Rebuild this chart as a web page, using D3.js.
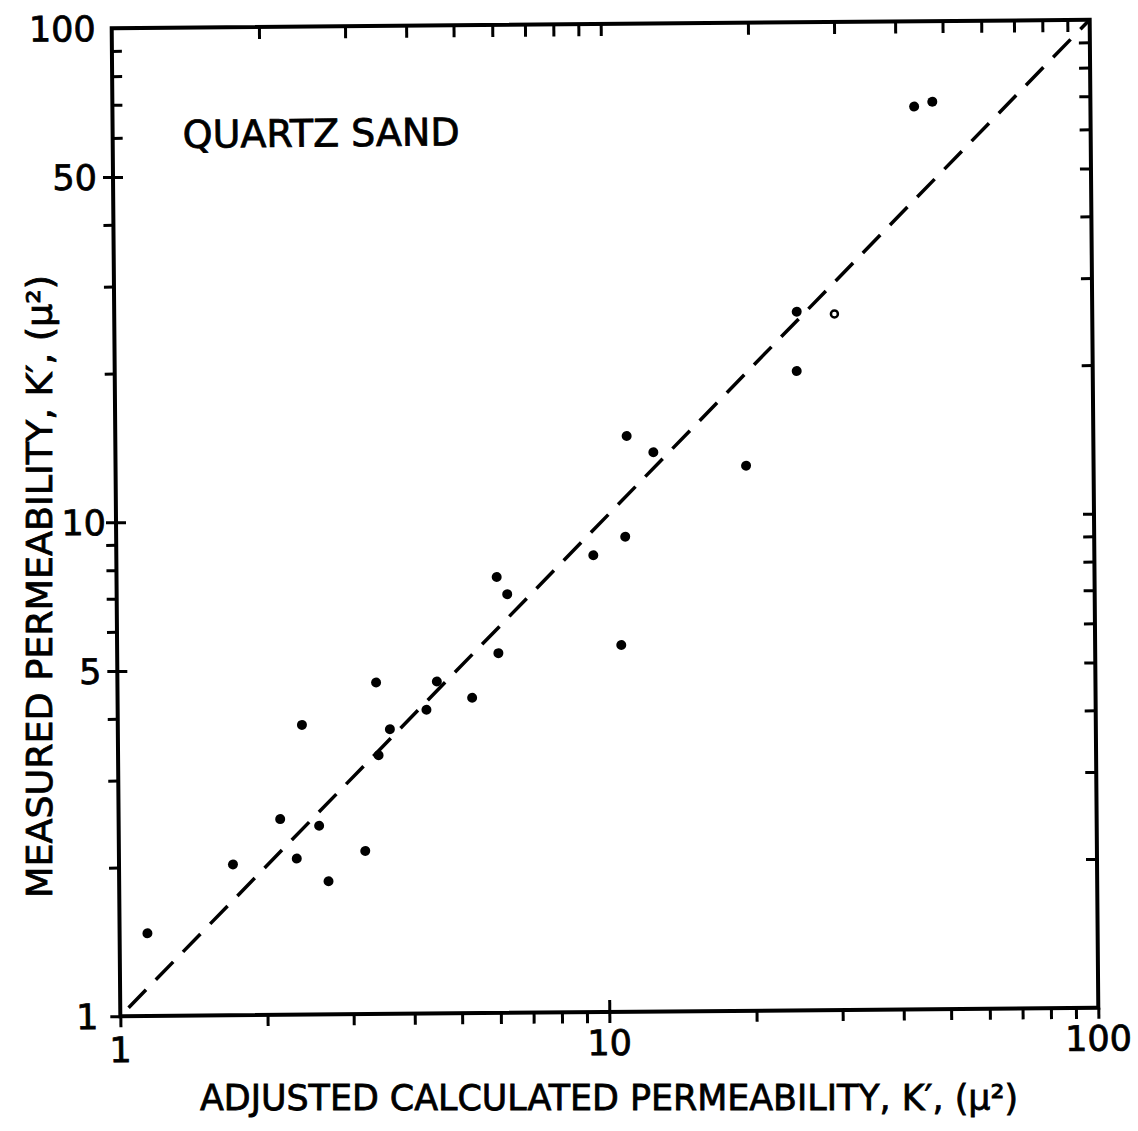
<!DOCTYPE html>
<html>
<head>
<meta charset="utf-8">
<script src="https://d3js.org/d3.v7.min.js"></script>
<style>
  body { margin: 0; background: #fff; }
  text { font-family: "DejaVu Sans", sans-serif; fill: #000; stroke: #000; stroke-width: 0.8px; }
</style>
</head>
<body>
<svg width="1138" height="1131"></svg>
<script>
// adjusted calculated permeability (x) vs measured permeability (y), both in μ²
const calcK = [1.14, 1.71, 2.14, 2.31, 2.38, 2.57, 2.68, 3.19, 3.38, 3.41, 3.6, 4.28, 4.5, 5.31,
               6.02, 6.29, 5.99, 9.45, 10.74, 10.99, 11.11, 12.59, 19.47, 24.87, 24.81, 29.7, 43.6, 47.5];
const measK = [1.47, 2.02, 2.49, 2.07, 3.86, 2.41, 1.86, 2.14, 4.69, 3.34, 3.77, 4.12, 4.7, 4.35,
               5.35, 7.04, 7.63, 8.41, 5.53, 9.16, 14.64, 13.56, 12.69, 25.96, 19.68, 25.64, 67.2, 68.7];
const openPoint = [false, false, false, false, false, false, false, false, false, false, false, false, false, false,
                   false, false, false, false, false, false, false, false, false, false, false, true, false, false];
// the dashed 1:1 line
const lineK = [1.04, 100];

const logTicks = [1, 2, 3, 4, 5, 6, 7, 8, 9, 10, 20, 30, 40, 50, 60, 70, 80, 90, 100];
const xLabels = [1, 10, 100];
const yLabels = [1, 5, 10, 50, 100];

const svg = d3.select("svg");
const W = 978, H = 988, cx = 605, cy = 518;

const x = d3.scaleLog().domain([1, 100]).range([0, W]);
const y = d3.scaleLog().domain([1, 100]).range([H, 0]);

// the scanned figure is slightly tilted
const g = svg.append("g")
    .attr("transform", `rotate(-0.5 ${cx} ${cy}) translate(${cx - W / 2},${cy - H / 2})`);

function styleTicks(sel) {
  sel.select(".domain").remove();
  sel.selectAll("line").attr("stroke", "#000").attr("stroke-width", 3);
}

// bottom: outward ticks, majors cross
g.append("g").attr("transform", `translate(0,${H})`)
    .call(d3.axisBottom(x).tickValues(logTicks).tickSize(11).tickFormat(""))
    .call(styleTicks);
g.append("g").attr("transform", `translate(0,${H})`)
    .call(d3.axisTop(x).tickValues([10]).tickSize(12).tickFormat(""))
    .call(styleTicks);

// top: inward ticks
g.append("g")
    .call(d3.axisBottom(x).tickValues(logTicks.filter(d => d > 1 && d < 100)).tickSize(12).tickFormat(""))
    .call(styleTicks);

// left: outward below 50, inward above
g.append("g")
    .call(d3.axisLeft(y).tickValues(logTicks.filter(d => d < 60)).tickSize(10).tickFormat(""))
    .call(styleTicks);
g.append("g")
    .call(d3.axisRight(y).tickValues(logTicks.filter(d => d >= 50 && d < 100 || d === 5 || d === 10)).tickSize(10).tickFormat(""))
    .call(styleTicks);

// right: inward ticks
g.append("g").attr("transform", `translate(${W},0)`)
    .call(d3.axisLeft(y).tickValues(logTicks.filter(d => d > 1 && d < 100)).tickSize(11).tickFormat(""))
    .call(styleTicks);

// frame
g.append("rect")
    .attr("x", 0).attr("y", 0).attr("width", W).attr("height", H)
    .attr("fill", "none").attr("stroke", "#000").attr("stroke-width", 4);

// tick labels
g.append("g").selectAll("text").data(xLabels).join("text")
    .attr("x", d => x(d))
    .attr("y", d => H + (d === 1 ? 46 : 43))
    .attr("text-anchor", "middle")
    .attr("font-size", 35)
    .text(d => d);

g.append("g").selectAll("text").data(yLabels).join("text")
    .attr("x", d => d === 1 ? -22 : (d === 10 ? -10 : -16))
    .attr("y", d => y(d))
    .attr("dy", "0.36em")
    .attr("text-anchor", "end")
    .attr("font-size", 35)
    .text(d => d);

// 1:1 line
g.append("path")
    .datum(lineK)
    .attr("d", d3.line().x(d => x(d)).y(d => y(d)))
    .attr("fill", "none")
    .attr("stroke", "#000")
    .attr("stroke-width", 3.5)
    .attr("stroke-dasharray", "25,14");

// data points
const pts = calcK.map((d, i) => ({ c: d, m: measK[i], open: openPoint[i] }));
g.append("g").selectAll("circle").data(pts).join("circle")
    .attr("cx", d => x(d.c))
    .attr("cy", d => y(d.m))
    .attr("r", d => d.open ? 3.5 : 5)
    .attr("fill", d => d.open ? "#fff" : "#000")
    .attr("stroke", "#000")
    .attr("stroke-width", d => d.open ? 2.5 : 0);

// annotation
g.append("text")
    .attr("x", 70).attr("y", 120)
    .attr("font-size", 38)
    .attr("textLength", 277)
    .attr("lengthAdjust", "spacingAndGlyphs")
    .text("QUARTZ  SAND");

// axis titles
svg.append("text")
    .attr("x", 200).attr("y", 1110)
    .attr("font-size", 35)
    .attr("textLength", 818)
    .attr("lengthAdjust", "spacingAndGlyphs")
    .text("ADJUSTED CALCULATED PERMEABILITY, K′, (μ²)");

svg.append("text")
    .attr("transform", "translate(52,898) rotate(-90)")
    .attr("font-size", 35)
    .attr("textLength", 623)
    .attr("lengthAdjust", "spacingAndGlyphs")
    .text("MEASURED PERMEABILITY, K′, (μ²)");
</script>
</body>
</html>
